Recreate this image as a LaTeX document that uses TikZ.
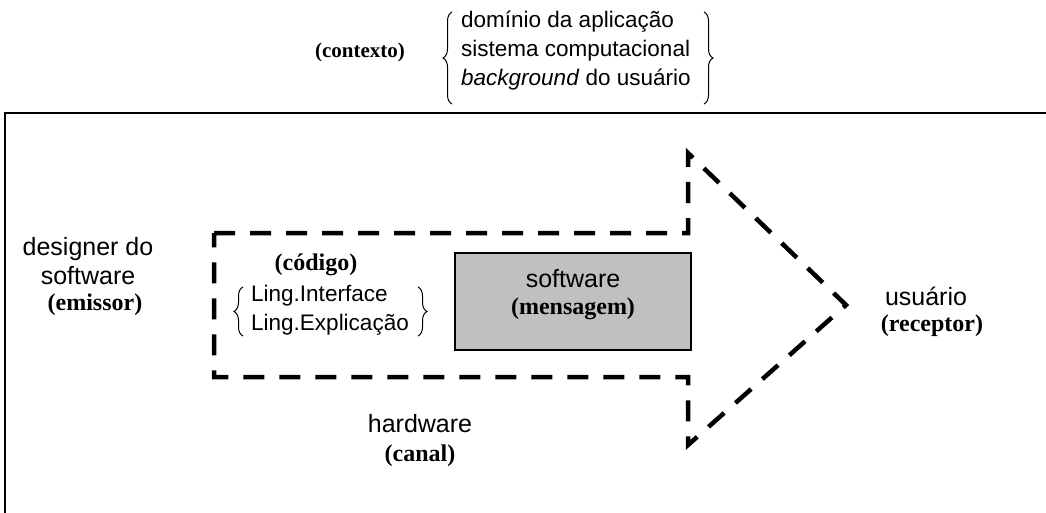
\documentclass[tikz,border=0pt]{standalone}
\usepackage{fontspec}
\setmainfont{Liberation Serif}
\setsansfont{Liberation Sans}
\usetikzlibrary{decorations.pathreplacing}
\begin{document}
\begin{tikzpicture}[x=1pt,y=-1pt,
  sanslbl/.style={font=\sffamily\fontsize{25}{29}\selectfont, inner sep=0pt, align=center},
  smalllbl/.style={font=\sffamily\fontsize{22.5}{29}\selectfont, inner sep=1pt, align=left},
  rolelbl/.style={font=\rmfamily\bfseries\fontsize{24}{28}\selectfont, inner sep=0pt},
  curly/.style={decorate, decoration={brace, amplitude=9pt}, line width=1pt},
  channel/.style={line width=4.5pt, dash pattern=on 21pt off 15pt},
  msgbox/.style={draw, line width=1.5pt, fill={rgb,255:red,192;green,192;blue,192}}]
\useasboundingbox (0,0) rectangle (1046,513);

% outer frame (continues beyond the page)
\draw[line width=2pt] (5,520) -- (5,113) -- (1060,113);

% context
\node[rolelbl, font=\rmfamily\bfseries\fontsize{21}{25}\selectfont] (ctxlabel) at (360,52) {(contexto)};
\node[smalllbl, anchor=west] (ctx) at (460,51) {domínio da aplicação\\sistema computacional\\\textit{background} do usuário};
\coordinate (ctxbl) at (452,104);
\coordinate (ctxtl) at (452,12);
\coordinate (ctxtr) at (704,12);
\coordinate (ctxbr) at (704,104);
\draw[curly] (ctxbl) -- (ctxtl);
\draw[curly] (ctxtr) -- (ctxbr);

% channel arrow
\coordinate (a1) at (214,233);
\coordinate (a2) at (688,233);
\coordinate (a3) at (688,153);
\coordinate (tip) at (846,305);
\coordinate (a4) at (688,445);
\coordinate (a5) at (688,377);
\coordinate (a6) at (214,377);
\draw[channel] (a1) -- (a2) -- (a3) -- (tip) -- (a4) -- (a5) -- (a6) -- cycle;

% message
\node[msgbox, minimum width=236pt, minimum height=97pt] (msg) at (573,301.5) {};
\node[sanslbl] (msgsw) at (573,279) {software};
\node[rolelbl] (msgrole) at (573,309) {(mensagem)};

% code
\node[rolelbl] (codelbl) at (316,265) {(código)};
\node[smalllbl] (code) at (330,310) {Ling.Interface\\Ling.Explicação};
\coordinate (codebl) at (243,336);
\coordinate (codetl) at (243,287);
\coordinate (codetr) at (418,287);
\coordinate (codebr) at (418,336);
\draw[curly] (codebl) -- (codetl);
\draw[curly] (codetr) -- (codebr);

% sender
\node[sanslbl] (sender) at (88,261) {designer do\\software};
\node[rolelbl] (senderrole) at (95,305) {(emissor)};

% receiver
\node[sanslbl] (recv) at (926,296) {usuário};
\node[rolelbl] (recvrole) at (932,326) {(receptor)};

% hardware
\node[sanslbl] (hw) at (420,424) {hardware};
\node[rolelbl] (hwrole) at (420,456) {(canal)};
\end{tikzpicture}
\end{document}
